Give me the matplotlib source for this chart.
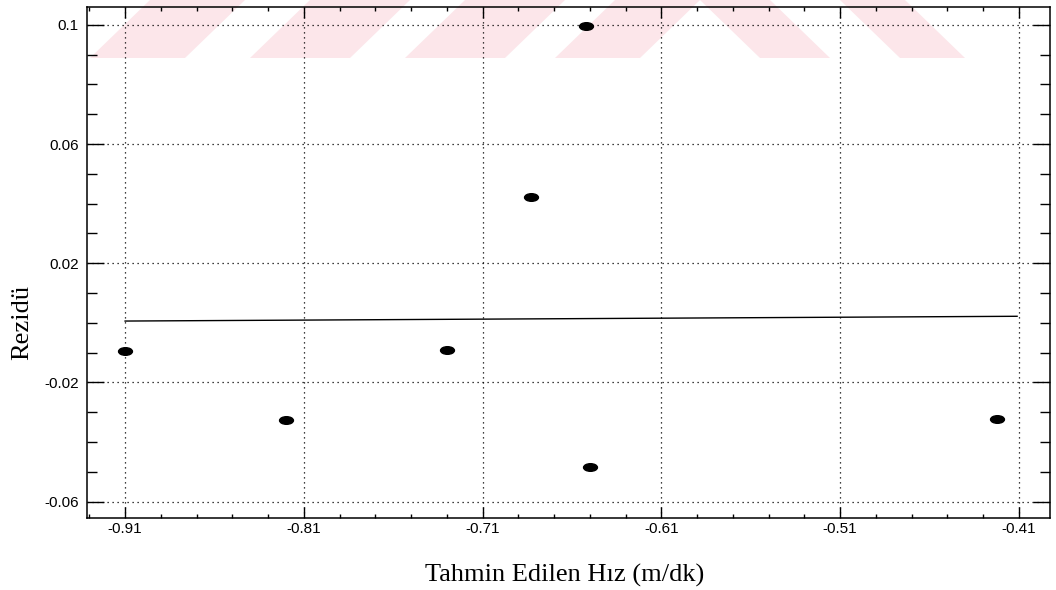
import numpy as np
import matplotlib
matplotlib.use("Agg")
import matplotlib.pyplot as plt
from matplotlib.patches import Polygon
from matplotlib.path import Path
from matplotlib.transforms import Affine2D

# ---- data ----
pred_speed = [-0.910, -0.820, -0.730, -0.683, -0.652, -0.650, -0.422]
residuals = [-0.0095, -0.0327, -0.0092, 0.0423, 0.0995, -0.0485, -0.0324]
zero_line_x = [-0.91, -0.411]
zero_line_y = [0.0006, 0.0022]
xtick_vals = [-0.91, -0.81, -0.71, -0.61, -0.51, -0.41]
xtick_labels = ["-0.91", "-0.81", "-0.71", "-0.61", "-0.51", "-0.41"]
ytick_vals = [-0.06, -0.02, 0.02, 0.06, 0.1]
ytick_labels = ["-0.06", "-0.02", "0.02", "0.06", "0.1"]
xlabel = "Tahmin Edilen Hız (m/dk)"
ylabel = "Rezidü"

W, H = 1056, 590
fig = plt.figure(figsize=(W / 100, H / 100), dpi=100)
ax = fig.add_axes([87 / W, 1 - 518 / H, (1050 - 87) / W, (518 - 7) / H])
ax.patch.set_alpha(0)

# watermark stripes (figure pixel coords, y from top)
pink = "#fce6ea"
def fpoly(pts):
    return Polygon([(x / W, 1 - y / H) for x, y in pts], closed=True,
                   transform=fig.transFigure, facecolor=pink, edgecolor="none",
                   zorder=-5)
hb = 58
for x0, x1 in [(150, 245), (310, 410), (465, 565), (615, 700)]:
    fig.add_artist(fpoly([(x0, 0), (x1, 0), (x1 - 60, hb), (x0 - 60, hb)]))
for x0, x1 in [(700, 770), (840, 905)]:
    fig.add_artist(fpoly([(x0, 0), (x1, 0), (x1 + 60, hb), (x0 + 60, hb)]))

# ellipse marker
ell = Path.unit_circle().transformed(Affine2D().scale(1.0, 0.55))

ax.plot(zero_line_x, zero_line_y, color="black", lw=1.0, zorder=3)
ax.plot(pred_speed, residuals, linestyle="none", marker=ell, markersize=10,
        color="black", zorder=4)

ax.set_xlim(-0.9313, -0.3926)
ax.set_ylim(-0.0655, 0.106)
ax.set_xticks(xtick_vals)
ax.set_xticklabels(xtick_labels)
ax.set_yticks(ytick_vals)
ax.set_yticklabels(ytick_labels)
ax.set_xticks(np.arange(-0.93, -0.39, 0.02), minor=True)
ax.set_yticks(np.arange(-0.06, 0.1001, 0.01), minor=True)

ax.grid(True, which="major", linestyle=(0, (1, 3)), color="black", lw=0.9)
for s in ax.spines.values():
    s.set_linewidth(1.1)

for lab in ax.get_xticklabels() + ax.get_yticklabels():
    lab.set_fontfamily("Liberation Sans")
    lab.set_fontsize(11)

ax.tick_params(axis="x", which="major", direction="in", length=8, width=1.0,
               top=True, bottom=True, pad=3)
ax.tick_params(axis="x", which="minor", direction="in", length=3, width=1.0,
               top=True, bottom=True)
ax.tick_params(axis="y", which="major", direction="in", length=12, width=1.0,
               left=True, right=True, pad=6)
ax.tick_params(axis="y", which="minor", direction="in", length=7, width=1.0,
               left=True, right=True)

fig.text(565 / W, 1 - 575 / H, xlabel, ha="center", va="center",
         family="Liberation Serif", fontsize=19)
fig.text(22 / W, 1 - 322 / H, ylabel, ha="center", va="center", rotation=90,
         family="Liberation Serif", fontsize=19)

fig.savefig("out.png", dpi=100)
